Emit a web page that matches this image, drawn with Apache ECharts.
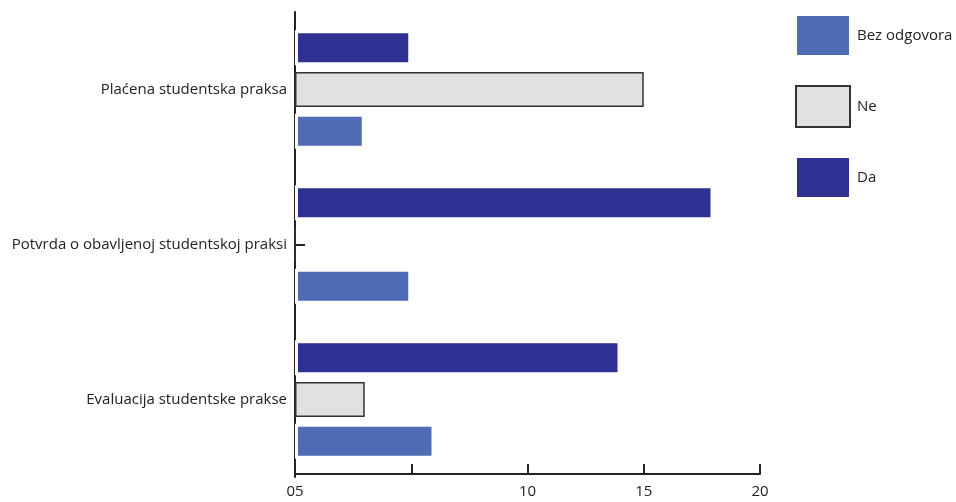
<!DOCTYPE html>
<html>
<head>
<meta charset="utf-8">
<script src="https://cdn.jsdelivr.net/npm/echarts@6/dist/echarts.min.js"></script>
<style>html,body{margin:0;padding:0;background:#fff}#c{width:956px;height:502px}</style>
</head>
<body>
<div id="c"></div>
<script>
const categories = ['Plaćena studentska praksa', 'Potvrda o obavljenoj studentskoj praksi', 'Evaluacija studentske prakse'];
const daValues = [5, 18, 14];
const neValues = [15, 0, 3];
const bezValues = [3, 5, 6];
const xTickLabels = ['05', '', '10', '15', '20'];
const legendNames = ['Bez odgovora', 'Ne', 'Da'];

const FONT = '"Open Sans", sans-serif';
const chart = echarts.init(document.getElementById('c'));
chart.setOption({
  animation: false,
  textStyle: { fontFamily: FONT },
  grid: { left: 295, right: 196, top: 12, bottom: 25 },
  legend: {
    data: legendNames,
    orient: 'vertical',
    left: 795,
    top: 14,
    padding: 0,
    itemWidth: 54,
    itemHeight: 41,
    itemGap: 28,
    icon: 'rect',
    textStyle: { fontSize: 15, color: '#222', fontFamily: FONT, padding: [0, 0, 0, 2] }
  },
  xAxis: {
    type: 'value',
    min: 0, max: 20, interval: 5,
    offset: -3,
    splitLine: { show: false },
    axisLine: { show: true, lineStyle: { color: '#222', width: 2 } },
    axisTick: { show: true, inside: true, length: 10, lineStyle: { color: '#222', width: 2 } },
    axisLabel: {
      color: '#222', fontSize: 15, margin: 10,
      formatter: function (v) { return xTickLabels[Math.round(v / 5)]; }
    }
  },
  yAxis: {
    type: 'category',
    data: categories,
    inverse: true,
    axisLine: { show: true, lineStyle: { color: '#222', width: 2 } },
    axisTick: { show: true, inside: true, alignWithLabel: true, length: 10, lineStyle: { color: '#222', width: 2 } },
    axisLabel: { color: '#222', fontSize: 15, margin: 8 }
  },
  series: [
    {
      name: 'Da', type: 'bar', data: daValues, barWidth: 35, barGap: '19%',
      itemStyle: { color: '#2e3192', borderColor: '#ffffff', borderWidth: 3 }
    },
    {
      name: 'Ne', type: 'bar', data: neValues, barWidth: 35, barGap: '19%',
      itemStyle: { color: '#e0e1e3', borderColor: '#333333', borderWidth: 1.5 }
    },
    {
      name: 'Bez odgovora', type: 'bar', data: bezValues, barWidth: 35, barGap: '19%',
      itemStyle: { color: '#4f6bb4', borderColor: '#ffffff', borderWidth: 3 }
    }
  ]
});
</script>
</body>
</html>
